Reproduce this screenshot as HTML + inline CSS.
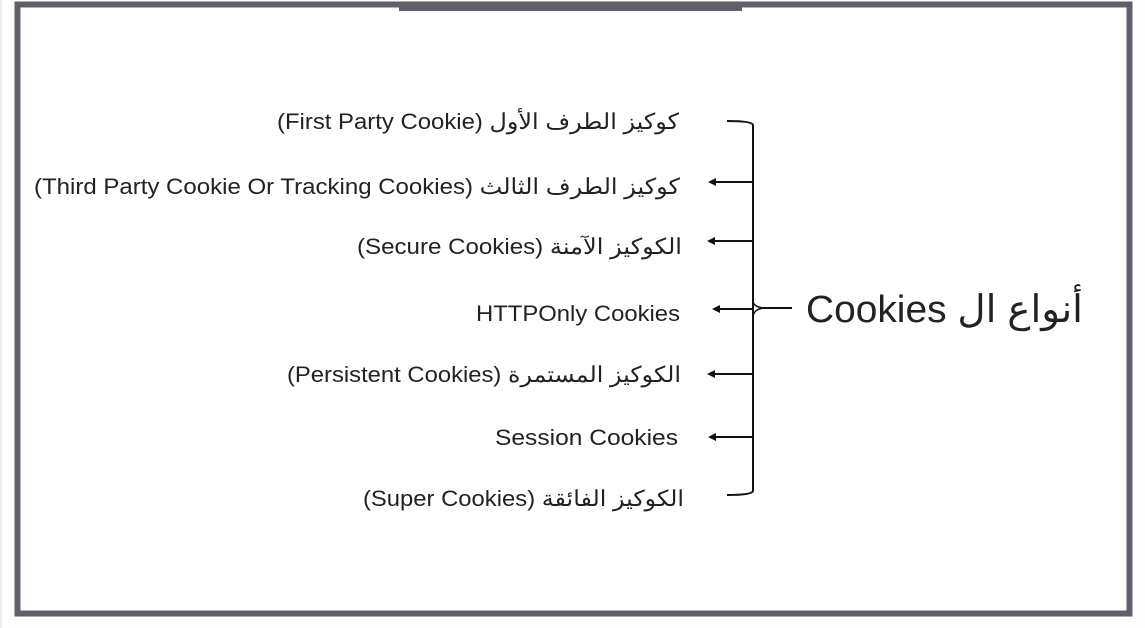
<!DOCTYPE html>
<html><head><meta charset="utf-8"><style>
html,body{margin:0;padding:0;background:#fdfdfd;width:1145px;height:628px;overflow:hidden}
svg{display:block}
text{font-family:"Liberation Sans","Noto Sans CJK SC",sans-serif;fill:#222}
</style></head><body>
<svg width="1145" height="628" viewBox="0 0 1145 628">
<rect x="0" y="0" width="1145" height="628" fill="#fdfdfd"/>
<line x1="1" y1="0" x2="1" y2="628" stroke="#ddd" stroke-width="1"/>
<rect x="17.5" y="4.5" width="1112" height="609" fill="#fff" stroke="#5f5f6b" stroke-width="6"/>
<rect x="399" y="2" width="343" height="9" fill="#5f5f6b"/>
<g fill="none" stroke="#111" stroke-width="2">
<path d="M727 121 Q752 121 753 125 L753 491 Q752 495 727 495"/>
<line x1="712" y1="182" x2="753" y2="182"/>
<line x1="711" y1="241" x2="753" y2="241"/>
<line x1="716" y1="309" x2="753" y2="309"/>
<path d="M753 302 Q755 308 766 308 Q755 308 753 316" stroke-width="1.5"/>
<line x1="762" y1="308" x2="792" y2="308"/>
<line x1="711" y1="374" x2="753" y2="374"/>
<line x1="711" y1="437" x2="753" y2="437"/>
</g>
<g fill="#111">
<path d="M708 182 L716 178 L716 186Z"/>
<path d="M707 241 L715 237 L715 245Z"/>
<path d="M712 309 L720 305 L720 313Z"/>
<path d="M707 374 L715 370 L715 378Z"/>
<path d="M708 437 L716 433 L716 441Z"/>
</g>
<g font-size="22" direction="rtl" text-anchor="start">
<text x="679" y="129" textLength="402" lengthAdjust="spacingAndGlyphs">كوكيز الطرف الأول (First Party Cookie)</text>
<text x="680" y="194" textLength="646" lengthAdjust="spacingAndGlyphs">كوكيز الطرف الثالث (Third Party Cookie Or Tracking Cookies)</text>
<text x="682" y="254" textLength="325" lengthAdjust="spacingAndGlyphs">الكوكيز الآمنة (Secure Cookies)</text>
<text x="680" y="321" textLength="204" lengthAdjust="spacingAndGlyphs">HTTPOnly Cookies</text>
<text x="681" y="382" textLength="394" lengthAdjust="spacingAndGlyphs">الكوكيز المستمرة (Persistent Cookies)</text>
<text x="678" y="445" textLength="183" lengthAdjust="spacingAndGlyphs">Session Cookies</text>
<text x="684" y="506" textLength="321" lengthAdjust="spacingAndGlyphs">الكوكيز الفائقة (Super Cookies)</text>
</g>
<text x="1083" y="322" font-size="38" direction="rtl" text-anchor="start" textLength="277" lengthAdjust="spacingAndGlyphs">أنواع ال Cookies</text>
</svg>
</body></html>
